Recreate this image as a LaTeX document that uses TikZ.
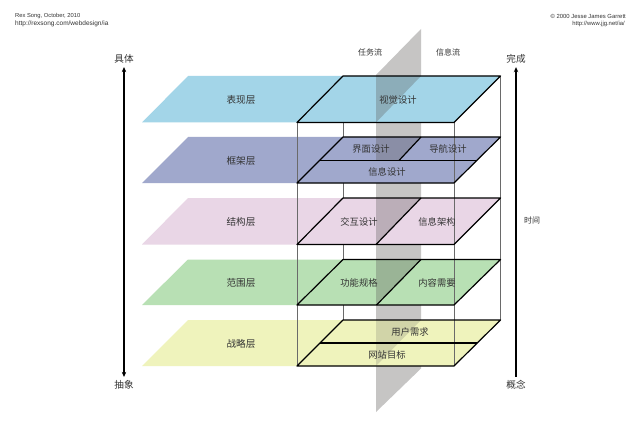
\documentclass[tikz,border=0pt]{standalone}
\usepackage{fontspec}
\setmainfont{Liberation Sans}
\newfontfamily\cjk{Noto Sans CJK SC}
\usetikzlibrary{arrows.meta}
\definecolor{laya}{HTML}{A3D5E8}
\definecolor{layb}{HTML}{A0A8CC}
\definecolor{layc}{HTML}{E9D6E6}
\definecolor{layd}{HTML}{B8E0B4}
\definecolor{laye}{HTML}{EFF3BC}
\definecolor{flow}{HTML}{5C5A58}
\definecolor{edge}{HTML}{6A6A6A}
\definecolor{txt}{HTML}{333333}
\tikzset{
  x=1pt,y=-1pt,
  lbl/.style={font=\cjk\fontsize{9.6}{10}\selectfont,text=txt,inner sep=0pt},
  cell/.style={font=\cjk\fontsize{9.3}{10}\selectfont,text=txt,inner sep=0pt},
  head/.style={font=\cjk\fontsize{8}{9}\selectfont,text=txt,inner sep=0pt},
  small/.style={font=\fontsize{5.9}{7}\selectfont,text=txt,inner sep=0pt},
  outline/.style={draw=black,line width=1.2pt,line join=round},
  boxedge/.style={draw=edge,line width=1pt},
  flowshade/.style={fill=flow,fill opacity=0.32},
  axis/.style={draw=black,line width=1.3pt,shorten >=3.5pt,shorten <=3.5pt},
}
\newcommand{\slab}[3]{%
  \fill[#3] (142,#2) -- (188,#1) -- (500.5,#1) -- (454,#2) -- cycle;}
\newcommand{\sframe}[2]{%
  \draw[outline] (297,#2) -- (343,#1) -- (500.5,#1) -- (454,#2) -- cycle;}
\newcommand{\sshade}[2]{%
  \fill[flowshade] (376,#2) -- (376,#1) -- (421,#1) -- cycle;}
\begin{document}
\begin{tikzpicture}
\useasboundingbox (0,0) rectangle (640,425);
\fill[white] (0,0) rectangle (640,425);
% vertical flow plane
\fill[flow,opacity=0.35] (376,75) -- (421,29) -- (421,368.5) -- (376,412) -- cycle;
% back edges of the box
\draw[boxedge] (500.5,76) -- (500.5,320);
\draw[boxedge] (343,122.5) -- (343,320);
% slabs
\slab{76}{122.5}{laya}
\slab{137}{183}{layb}
\slab{198}{244.5}{layc}
\slab{259.5}{305}{layd}
\slab{320}{366}{laye}
% flow plane seen behind the slabs
\sshade{76}{122.5}
\fill[flowshade] (376,160.5) -- (376,137) -- (421,137) -- (399,160.5) -- cycle;
\sshade{198}{244.5}
\sshade{259.5}{305}
\fill[flowshade,fill opacity=0.2] (376,366) -- (376,320) -- (421,320) -- cycle;
% front edges of the box
\draw[boxedge] (297,122.5) -- (297,366);
\draw[boxedge] (454,122.5) -- (454,366);
% slab outlines
\sframe{76}{122.5}
\sframe{137}{183}
\sframe{198}{244.5}
\sframe{259.5}{305}
\sframe{320}{366}
\draw[outline] (320,160.5) -- (477,160.5);
\draw[outline] (399,160.5) -- (421,137);
\draw[outline] (376,244.5) -- (421,198);
\draw[outline] (376.5,305) -- (421,259.5);
\draw[outline] (320,343) -- (477,343);
% layer labels
\node[lbl] (l1) at (241,99.5) {表现层};
\node[lbl] (l2) at (241,160.5) {框架层};
\node[lbl] (l3) at (241,222) {结构层};
\node[lbl] (l4) at (241,283) {范围层};
\node[lbl] (l5) at (241,344) {战略层};
% cell labels
\node[cell] (c1) at (398,99.5) {视觉设计};
\node[cell] (c2) at (371,149) {界面设计};
\node[cell] (c3) at (448,149) {导航设计};
\node[cell] (c4) at (387,172) {信息设计};
\node[cell] (c5) at (359,222) {交互设计};
\node[cell] (c6) at (437,222) {信息架构};
\node[cell] (c7) at (359,283) {功能规格};
\node[cell] (c8) at (437,283) {内容需要};
\node[cell] (c9) at (410,332) {用户需求};
\node[cell] (c10) at (387,355) {网站目标};
% flow headings
\node[head] (task) at (370,52) {任务流};
\node[head] (info) at (448,52) {信息流};
% axes
\node[lbl] (concrete) at (124,59) {具体};
\node[lbl] (abstract) at (124,385) {抽象};
\node[lbl] (done) at (516,59) {完成};
\node[lbl] (concept) at (516,385) {概念};
\node[head] (time) at (532,220) {时间};
\draw[axis,{Stealth[length=5pt,width=4.5pt]}-{Stealth[length=5pt,width=4.5pt]}] (concrete.south) -- (abstract.north);
\draw[axis,{Stealth[length=5pt,width=4.5pt]}-] (done.south) -- (concept.north);
% credits
\node[small,anchor=west,font=\fontsize{5.8}{7}\selectfont] (cr1) at (15,16.5) {Rex Song, October, 2010};
\node[small,anchor=west,font=\fontsize{6.5}{7}\selectfont] (cr2) at (15,24) {http://rexsong.com/webdesign/ia};
\node[small,anchor=east] (cr3) at (626,16.5) {© 2000 Jesse James Garrett};
\node[small,anchor=east] (cr4) at (625,24) {http://www.jjg.net/ia/};
\end{tikzpicture}
\end{document}
